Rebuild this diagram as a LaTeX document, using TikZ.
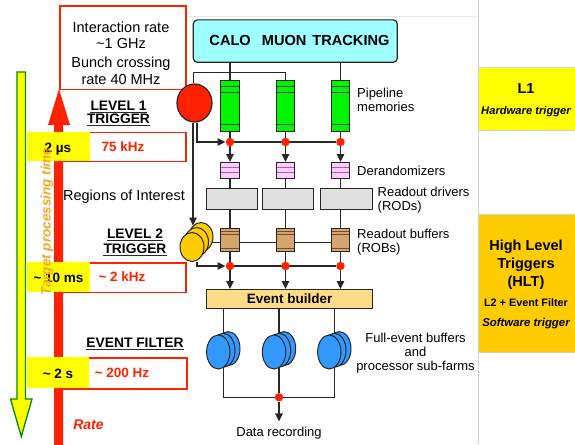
\documentclass[tikz,border=0pt]{standalone}
\usepackage{fontspec}
\setmainfont{Liberation Sans}
\usetikzlibrary{shapes.geometric,arrows.meta}
\pgfdeclarelayer{bg}
\pgfsetlayers{bg,main}
\definecolor{rred}{RGB}{255,34,0}
\definecolor{ylw}{RGB}{255,255,0}
\definecolor{gold}{RGB}{255,204,0}
\definecolor{cyanb}{RGB}{160,255,255}
\definecolor{grn}{RGB}{0,245,0}
\definecolor{dgrn}{RGB}{0,140,0}
\definecolor{pinkb}{RGB}{255,204,255}
\definecolor{purp}{RGB}{150,100,200}
\definecolor{brownb}{RGB}{212,165,110}
\definecolor{dbrown}{RGB}{120,75,30}
\definecolor{grayb}{RGB}{224,224,224}
\definecolor{ebc}{RGB}{255,221,136}
\definecolor{blueb}{RGB}{51,153,255}
\definecolor{orng}{RGB}{245,166,35}
\definecolor{sepc}{RGB}{210,210,210}
\definecolor{lnc}{RGB}{40,40,40}
\begin{document}
\begin{tikzpicture}[x=1pt,y=-1pt,
  lbl/.style={inner sep=0, anchor=base west, font=\fontsize{13}{15}\selectfont},
  lblc/.style={inner sep=0, anchor=base, font=\fontsize{13}{15}\selectfont},
  bigl/.style={lblc, font=\fontsize{14.5}{16}\selectfont},
  ttl/.style={inner sep=0, anchor=base, font=\bfseries\fontsize{13.8}{15}\selectfont,
    append after command={([yshift=-2pt]\tikzlastnode.south west) edge[line width=1pt, lnc] ([yshift=-2pt]\tikzlastnode.south east)}},
  bld/.style={inner sep=0, anchor=base, font=\bfseries\fontsize{13.5}{15}\selectfont},
  redt/.style={bld, text=rred},
  redframe/.style={draw=rred, line width=1.8pt, anchor=north west, inner sep=0},
  ylwbox/.style={fill=ylw, anchor=north west, inner sep=0, minimum width=63, minimum height=29},
  conn/.style={draw=lnc, line width=1.3pt},
  arr/.style={conn, -{Triangle[length=8pt,width=7.5pt]}},
  reddot/.style={circle, fill=rred, minimum size=8.5, inner sep=0},
  stripebox/.style={draw=black!85, line width=1pt, anchor=north, inner sep=0, minimum width=18.6},
  greenbox/.style={stripebox, fill=grn, minimum height=50.7,
    path picture={
      \draw[black!75, line width=0.9pt] ([yshift=-6pt]path picture bounding box.north west) -- ([yshift=-6pt]path picture bounding box.north east);
      \draw[black!75, line width=0.9pt] ([yshift=-11.5pt]path picture bounding box.north west) -- ([yshift=-11.5pt]path picture bounding box.north east);
      \draw[black!75, line width=0.9pt] ([yshift=6.5pt]path picture bounding box.south west) -- ([yshift=6.5pt]path picture bounding box.south east);}},
  pinkbox/.style={stripebox, fill=pinkb, minimum height=16.3,
    path picture={
      \draw[purp, line width=0.9pt] ([yshift=-5pt]path picture bounding box.north west) -- ([yshift=-5pt]path picture bounding box.north east);
      \draw[purp, line width=0.9pt] ([yshift=-9.5pt]path picture bounding box.north west) -- ([yshift=-9.5pt]path picture bounding box.north east);}},
  brownbox/.style={stripebox, fill=brownb, minimum height=22.7,
    path picture={
      \draw[dbrown, line width=0.8pt] ([yshift=-2.6pt]path picture bounding box.north west) -- ([yshift=-2.6pt]path picture bounding box.north east);
      \draw[dbrown, line width=0.8pt] ([yshift=-5.2pt]path picture bounding box.north west) -- ([yshift=-5.2pt]path picture bounding box.north east);
      \draw[dbrown, line width=0.8pt] ([yshift=3pt]path picture bounding box.south west) -- ([yshift=3pt]path picture bounding box.south east);}},
  rodbox/.style={draw=black!85, line width=1pt, fill=grayb, anchor=north west, inner sep=0, minimum height=21.3},
  yell/.style={ellipse, draw=black!85, line width=1pt, fill=gold, minimum width=24, minimum height=29, inner sep=0},
  bell/.style={ellipse, draw=black!85, line width=1pt, fill=blueb, minimum width=23.4, minimum height=34, inner sep=0},
  sidebox/.style={draw=sepc, line width=0.8pt, anchor=north west, inner sep=0, minimum width=98}
]
\useasboundingbox (0,0) rectangle (575,444);

% separators and right-hand panels
\draw[sepc!50, line width=0.8pt] (185,16.5) -- (478,16.5);
\draw[sepc, line width=0.8pt] (478,0) -- (478,444);
\node[sidebox, fill=ylw, minimum height=63] (lonebox) at (477.5,66.5) {};
\node[bld, font=\bfseries\fontsize{14.5}{16}\selectfont] (lonet) at (526,93.3) {L1};
\node[bld, font=\bfseries\itshape\fontsize{11.2}{13}\selectfont] (hwt) at (526,114) {Hardware trigger};
\node[sidebox, fill=gold, minimum height=138] (hltbox) at (477.5,214) {};
\node[bld, font=\bfseries\fontsize{14.5}{16}\selectfont] (hlt1) at (526,250.5) {High Level};
\node[bld, font=\bfseries\fontsize{14.5}{16}\selectfont] (hlt2) at (526,268.7) {Triggers};
\node[bld, font=\bfseries\fontsize{14.5}{16}\selectfont] (hlt3) at (526,286.8) {(HLT)};
\node[bld, font=\bfseries\fontsize{10.8}{13}\selectfont] (hlt4) at (526,306.7) {L2 + Event Filter};
\node[bld, font=\bfseries\itshape\fontsize{11.4}{13}\selectfont] (hlt5) at (526,326.5) {Software trigger};

% left: time (yellow) and rate (red) arrows
\filldraw[fill=ylw, draw=dgrn, line width=1.3pt] (17,72) -- (17,399) -- (10.5,399) -- (21.3,436.5) -- (32,399) -- (25.5,399) -- (25.5,72) -- cycle;
\fill[rred] (54,445) -- (54,125) -- (48,125) -- (59,89) -- (70,125) -- (63,125) -- (63,445) -- cycle;

% top rate box
\node[redframe, minimum width=126, minimum height=83.5] (ratebox) at (59,5) {};
\node[bigl] (rt1) at (121,32.3) {Interaction rate};
\node[bigl] (rt2) at (121,48.3) {\textasciitilde 1 GHz};
\node[bigl] (rt3) at (121,67.7) {Bunch crossing};
\node[bigl] (rt4) at (121,84) {rate 40 MHz};

% level boxes
\node[redframe, minimum width=127, minimum height=29] (lv1f) at (58,131.5) {};
\node[ylwbox] (lv1y) at (27,131.5) {};
\node[bld] (lv1t) at (58,152.5) {2 µs};
\node[redt] (lv1r) at (123,151) {75 kHz};

\node[redframe, minimum width=127, minimum height=29.5] (lv2f) at (58,262) {};
\node[ylwbox, minimum height=29.5] (lv2y) at (27,262) {};
\node[bld] (lv2t) at (58.5,282.3) {\textasciitilde\ 10 ms};
\node[redt] (lv2r) at (122,281.7) {\textasciitilde\ 2 kHz};

\node[redframe, minimum width=128, minimum height=31] (lv3f) at (58,357) {};
\node[ylwbox, minimum width=62, minimum height=31] (lv3y) at (27,357) {};
\node[bld] (lv3t) at (58,378) {\textasciitilde\ 2 s};
\node[redt] (lv3r) at (122,377) {\textasciitilde\ 200 Hz};

\node[inner sep=0, anchor=base, rotate=90, text=orng, font=\bfseries\itshape\fontsize{13.5}{15}\selectfont] (tpt) at (50.5,221.5) {Target processing time};
\node[inner sep=0, anchor=base, text=rred, font=\bfseries\itshape\fontsize{14}{15}\selectfont] (ratet) at (88.5,429) {Rate};

% left titles
\node[ttl] (l1a) at (118.5,110) {LEVEL 1};
\node[ttl] (l1b) at (118.5,123.3) {TRIGGER};
\node[bigl] (roi) at (124,200.4) {Regions of Interest};
\node[ttl] (l2a) at (135,238.3) {LEVEL 2};
\node[ttl] (l2b) at (135,253.3) {TRIGGER};
\node[ttl] (efa) at (135,347.7) {EVENT FILTER};

% detector box
\node[draw=black!85, line width=1.2pt, rounded corners=4pt, fill=cyanb, anchor=north west, inner sep=0, minimum width=204, minimum height=42.4] (calo) at (192.7,19.3) {};
\node[bld, font=\bfseries\fontsize{14.6}{16}\selectfont] (calot) at (299.5,45.7) {CALO\hspace{11pt}MUON\hspace{6pt}TRACKING};

% L1 trigger processor
\node[ellipse, draw=black!85, line width=1.2pt, fill=rred, minimum width=35, minimum height=38, inner sep=0] (lone) at (194.5,103) {};

% columns
\node[greenbox] (g1) at (230,80) {};
\node[greenbox] (g2) at (285.5,80) {};
\node[greenbox] (g3) at (340.5,80) {};
\node[reddot] (d1) at (230,142) {};
\node[reddot] (d2) at (285.5,142) {};
\node[reddot] (d3) at (340.5,142) {};
\node[pinkbox] (p1) at (230,162) {};
\node[pinkbox] (p2) at (285.5,162) {};
\node[pinkbox] (p3) at (340.5,162) {};
\node[rodbox, minimum width=51] (r1) at (205.7,187.7) {};
\node[rodbox, minimum width=51] (r2) at (261.7,187.7) {};
\node[rodbox, minimum width=52.3] (r3) at (320,187.7) {};
\node[brownbox] (b1) at (230,228.3) {};
\node[brownbox] (b2) at (285.5,228.3) {};
\node[brownbox] (b3) at (340.5,228.3) {};

% L2 processors
\node[yell] (ltwoc) at (201,237) {};
\node[yell] (ltwob) at (196.5,242) {};
\node[yell] (ltwo) at (192,247) {};

\node[reddot] (e1) at (230,266) {};
\node[reddot] (e2) at (285.5,266) {};
\node[reddot] (e3) at (340.5,266) {};

\node[draw=black!85, line width=1pt, fill=ebc, anchor=north west, inner sep=0, minimum width=166.3, minimum height=19.3, font=\bfseries\fontsize{13.5}{15}\selectfont] (eb) at (206,289) {Event builder\hspace{8pt}};

% farms
\foreach \c/\n in {218.3/1, 274/2, 329.3/3}{
  \node[bell] (s\n) at (\c+10,348.6) {};
  \node[bell] (s\n m) at (\c+5,350.3) {};
  \node[bell] (s\n f) at (\c,352) {};
}
\node[reddot] (dr) at (279,397.3) {};
\node[lblc] (datarec) at (279,436) {Data recording};

% right labels
\node[lbl] (pipe1) at (357,97.5) {Pipeline};
\node[lbl] (pipe2) at (357,111.5) {memories};
\node[lbl] (derand) at (357,175) {Derandomizers};
\node[lbl] (rod1) at (377.5,196) {Readout drivers};
\node[lbl] (rod2) at (377.5,210) {(RODs)};
\node[lbl] (rob1) at (357,238) {Readout buffers};
\node[lbl] (rob2) at (357,252) {(ROBs)};
\node[lblc] (feb1) at (415.5,342) {Full-event buffers};
\node[lblc] (feb2) at (415.5,356) {and};
\node[lblc] (feb3) at (415.5,370) {processor sub-farms};

% connectors
\begin{pgfonlayer}{bg}
\draw[conn] (calo.south -| g1.north) -- (g1.north);
\draw[conn] (calo.south -| g3.north) -- (g3.north);
\draw[conn] ([xshift=-1.2pt]lone.north) |- ([yshift=7.3pt]g2.north) -- (g2.north);
\foreach \i in {1,2,3}{
  \draw[conn] (g\i.south) -- (d\i);
  \draw[arr] (d\i) -- (p\i.north);
  \draw[conn] (p\i.south) -- (p\i.south |- r\i.north);
  \draw[conn] (r\i.south -| b\i.north) -- (b\i.north);
  \draw[conn] (b\i.south) -- (e\i);
  \draw[arr] (e\i) -- (e\i |- eb.north);
  \draw[conn] (s\i m |- eb.south) -- (s\i m);
}
\draw[arr] ([xshift=2.5pt]lone.south) |- (d1.west);
\draw[conn] (d1) -- (d3);
\draw[arr] (ltwoc.125 |- lone.south) -- (ltwoc.125);
\draw[conn] ([yshift=-2.5pt]b3.west) -- ([yshift=-2.5pt]b1.west -| ltwob.center);
\draw[arr] ([xshift=5pt]ltwo.south) |- (e1.west);
\draw[conn] (e1) -- (e3);
\draw[conn] (s1m) |- (dr) -| (s3m);
\draw[conn] (s2m) -- (dr);
\draw[arr] (dr) -- ([yshift=5pt]datarec.north);
\end{pgfonlayer}
\end{tikzpicture}
\end{document}
